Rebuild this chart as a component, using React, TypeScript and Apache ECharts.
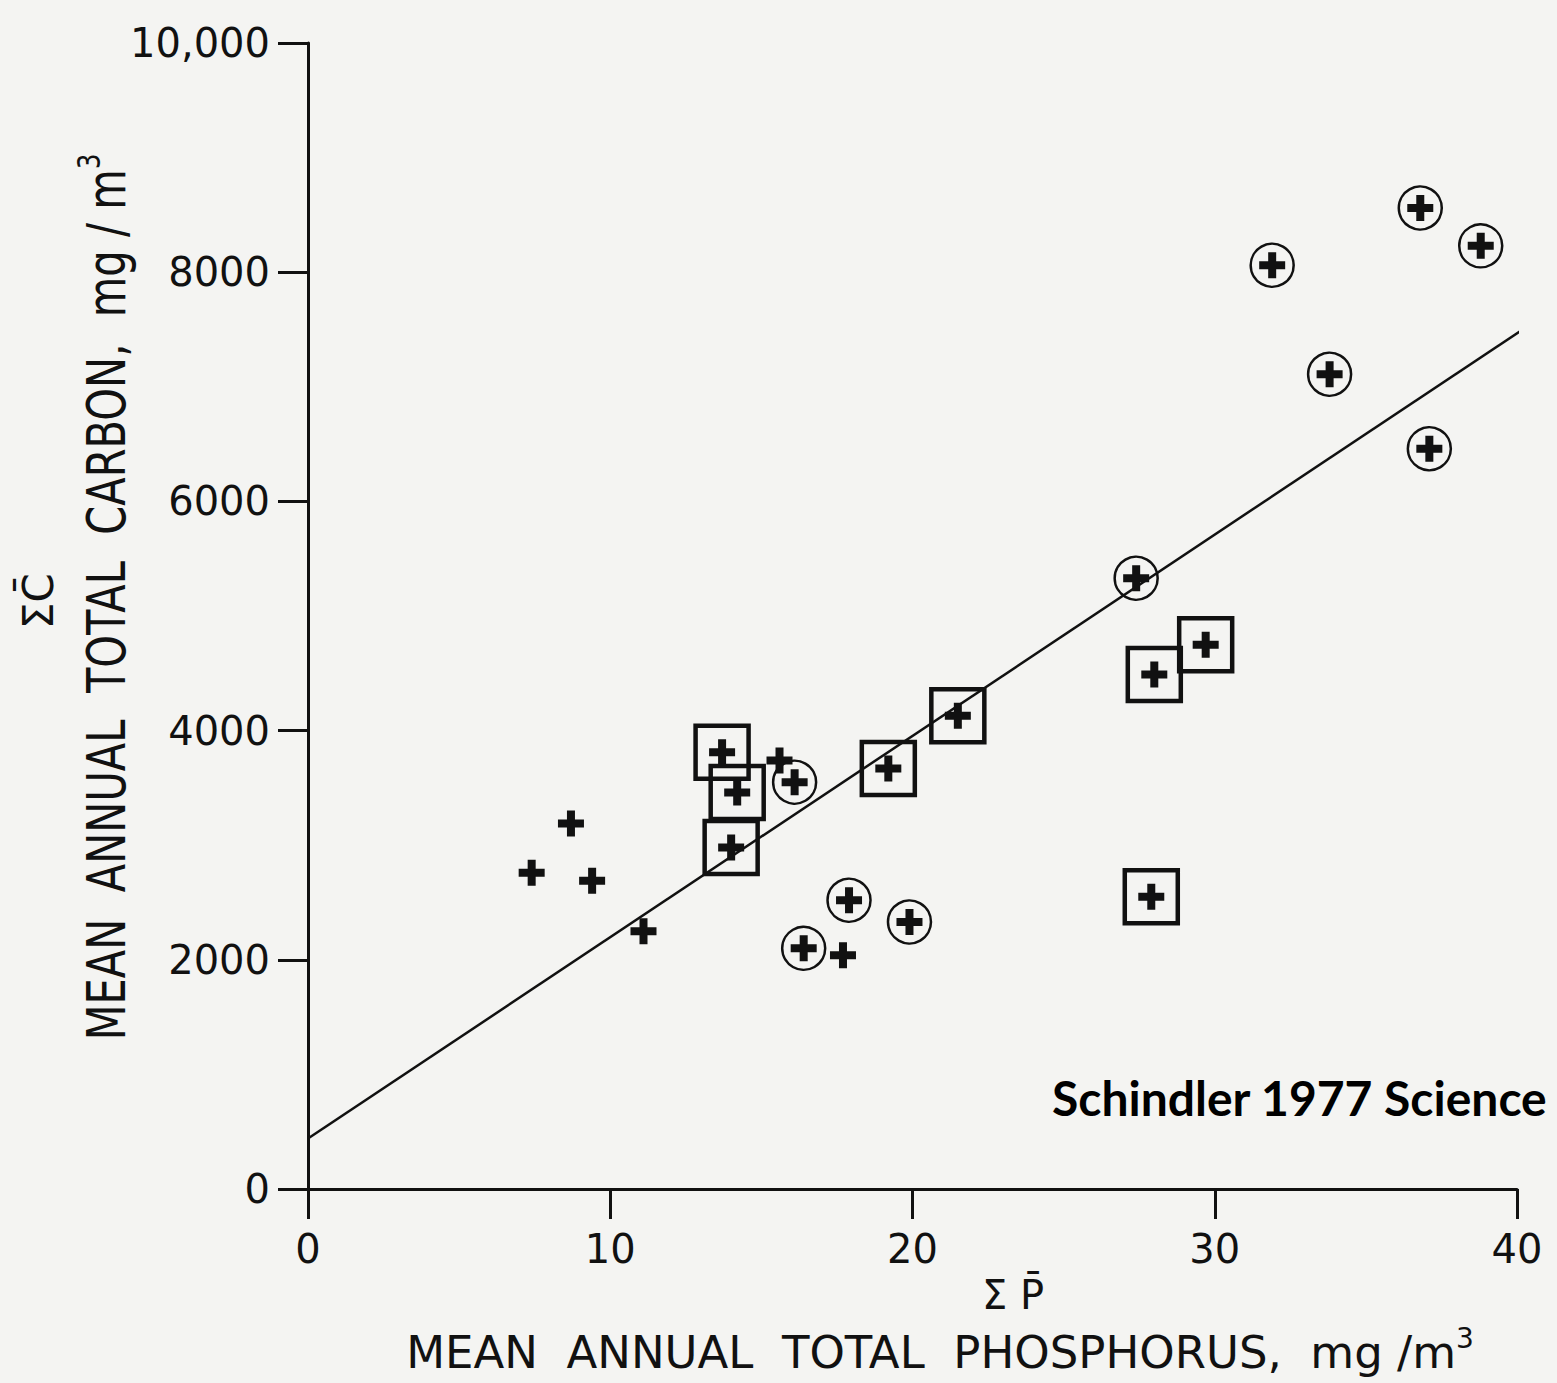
import React, { useEffect, useRef } from "react";
import * as echarts from "echarts";

// Mean annual total phosphorus (mg/m3) vs mean annual total carbon (mg/m3)
const plainPts: [number, number][] = [
  [7.4, 2760], [8.7, 3190], [9.4, 2690], [11.1, 2250], [15.6, 3740], [17.7, 2040],
];
const circledPts: [number, number][] = [
  [16.4, 2100], [17.9, 2520], [19.9, 2330], [16.1, 3550], [27.4, 5330],
  [31.9, 8060], [33.8, 7110], [37.1, 6460], [36.8, 8560], [38.8, 8230],
];
const boxedPts: [number, number][] = [
  [13.7, 3810], [14.2, 3460], [14.0, 2980], [19.2, 3670], [21.5, 4130],
  [28.0, 4490], [29.7, 4750], [27.9, 2550],
];
// regression line end points
const fitLine: [number, number][] = [
  [0, 440], [40.3, 7520],
];
const xTickLabels = ["0", "10", "20", "30", "40"];
const yTickLabels = ["0", "2000", "4000", "6000", "8000", "10,000"];

const BG = "#f4f4f2";
const INK = "#111111";
const FONT = "DejaVu Sans";
const CROSS = "path://M9 0H17V9H26V17H17V26H9V17H0V9H9Z";

export default function App() {
  const ref = useRef<HTMLDivElement>(null);

  useEffect(() => {
    if (!ref.current) return;
    const chart = echarts.init(ref.current, null, { renderer: "svg" });
    const axisLine = { show: true, lineStyle: { color: INK, width: 3 } };
    const axisTick = { show: true, length: 30, inside: false, lineStyle: { color: INK, width: 3 } };
    const supStyle = (size: number) => ({
      fontFamily: FONT,
      fontSize: size,
      fill: INK,
      verticalAlign: "top",
    });
    chart.setOption({
      animation: false,
      backgroundColor: BG,
      grid: { left: 308, right: 40, top: 43, bottom: 194 },
      xAxis: {
        type: "value",
        min: 0,
        max: 40,
        interval: 10,
        axisLine: { ...axisLine, onZero: false },
        axisTick,
        splitLine: { show: false },
        axisLabel: {
          margin: 40,
          fontFamily: FONT,
          fontSize: 40,
          color: INK,
          formatter: (_v: number, i: number) => xTickLabels[i],
        },
      },
      yAxis: {
        type: "value",
        min: 0,
        max: 10000,
        interval: 2000,
        axisLine: { ...axisLine, onZero: false },
        axisTick,
        splitLine: { show: false },
        axisLabel: {
          margin: 38,
          fontFamily: FONT,
          fontSize: 40,
          color: INK,
          formatter: (_v: number, i: number) => yTickLabels[i],
        },
      },
      series: [
        {
          type: "line",
          name: "fit",
          data: fitLine,
          symbol: "none",
          clip: false,
          silent: true,
          lineStyle: { color: INK, width: 2.5 },
          z: 2,
        },
        {
          type: "scatter",
          name: "boxed",
          data: boxedPts,
          symbol: "rect",
          symbolSize: 53,
          silent: true,
          itemStyle: { color: "rgba(0,0,0,0)", borderColor: INK, borderWidth: 4.5, opacity: 1 },
          z: 3,
        },
        {
          type: "scatter",
          name: "circled",
          data: circledPts,
          symbol: "circle",
          symbolSize: 43,
          silent: true,
          itemStyle: { color: "rgba(0,0,0,0)", borderColor: INK, borderWidth: 2.5, opacity: 1 },
          z: 3,
        },
        {
          type: "scatter",
          name: "cross",
          data: [...plainPts, ...circledPts, ...boxedPts],
          symbol: CROSS,
          symbolSize: 26,
          silent: true,
          itemStyle: { color: INK, opacity: 1 },
          z: 4,
        },
      ],
      graphic: [
        {
          type: "text",
          x: 106,
          y: 597,
          rotation: Math.PI / 2,
          scaleX: 0.77,
          style: {
            text: "{a|MEAN  ANNUAL  TOTAL  CARBON,  mg / m}{s|3}",
            fontFamily: FONT,
            fontSize: 54,
            fill: INK,
            align: "center",
            verticalAlign: "middle",
            rich: {
              a: { fontFamily: FONT, fontSize: 54, fill: INK, lineHeight: 66 },
              s: supStyle(32),
            },
          },
        },
        {
          type: "text",
          x: 38,
          y: 601,
          rotation: Math.PI / 2,
          style: {
            text: "ΣC\u0304",
            fontFamily: FONT,
            fontSize: 42,
            fill: INK,
            align: "center",
            verticalAlign: "middle",
          },
        },
        {
          type: "text",
          x: 1013,
          y: 1295,
          style: {
            text: "Σ P\u0304",
            fontFamily: FONT,
            fontSize: 40,
            fill: INK,
            align: "center",
            verticalAlign: "middle",
          },
        },
        {
          type: "text",
          x: 940,
          y: 1352,
          style: {
            text: "{a|MEAN  ANNUAL  TOTAL  PHOSPHORUS,  mg /m}{s|3}",
            fontFamily: FONT,
            fontSize: 45,
            fill: INK,
            align: "center",
            verticalAlign: "middle",
            rich: {
              a: { fontFamily: FONT, fontSize: 45, fill: INK, lineHeight: 56 },
              s: supStyle(28),
            },
          },
        },
        {
          type: "text",
          x: 1052,
          y: 1097,
          style: {
            text: "Schindler 1977 Science",
            fontFamily: "Lato",
            fontWeight: "bold",
            fontSize: 48,
            fill: "#000",
            align: "left",
            verticalAlign: "middle",
          },
        },
      ],
    });
    return () => chart.dispose();
  }, []);

  return (
    <div
      ref={ref}
      style={{ position: "absolute", left: 0, top: 0, width: 1557, height: 1383, background: BG }}
    />
  );
}
